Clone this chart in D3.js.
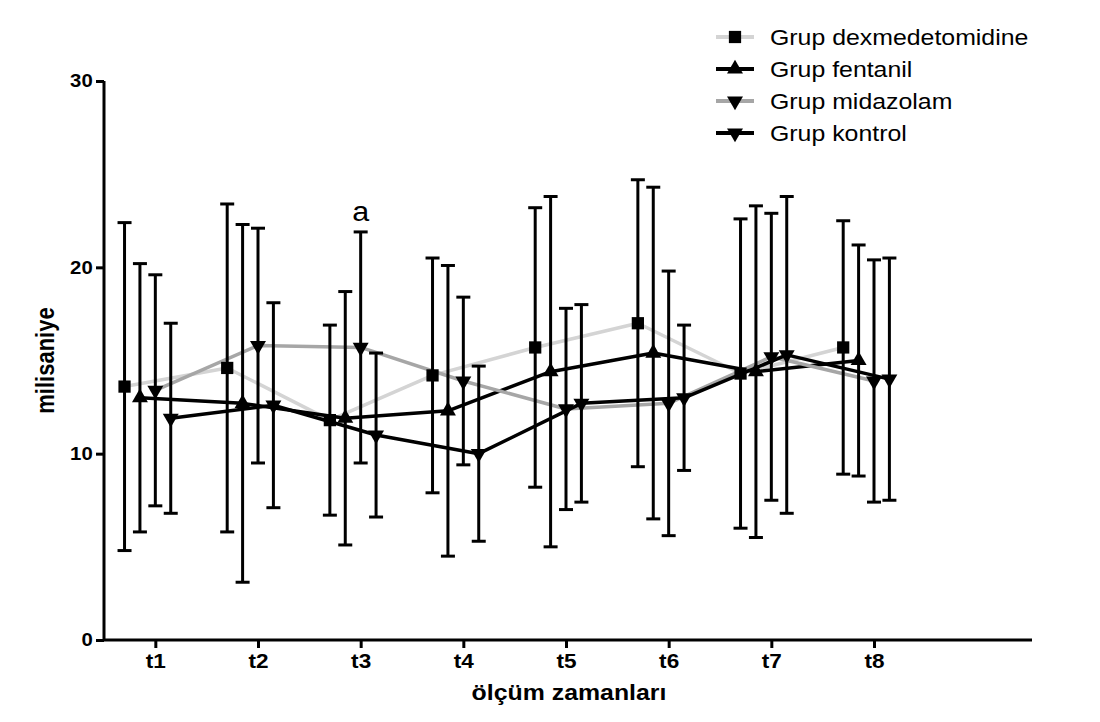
<!DOCTYPE html>
<html>
<head>
<meta charset="utf-8">
<script src="https://cdn.jsdelivr.net/npm/d3@7"></script>
<style>
  body { margin: 0; background: #fff; }
  svg { font-family: "Liberation Sans", Arial, sans-serif; }
</style>
</head>
<body>
<div id="chart"></div>
<script>
const width = 1100;
const height = 722;

const timePoints = ['t1', 't2', 't3', 't4', 't5', 't6', 't7', 't8'];
const groupNames = ['Grup dexmedetomidine', 'Grup fentanil', 'Grup midazolam', 'Grup kontrol'];

// mean and SD per time point
const dexMean = [13.6, 14.6, 11.8, 14.2, 15.7, 17.0, 14.3, 15.7];
const dexSd   = [8.8, 8.8, 5.1, 6.3, 7.5, 7.7, 8.3, 6.8];
const fenMean = [13.0, 12.7, 11.9, 12.3, 14.4, 15.4, 14.4, 15.0];
const fenSd   = [7.2, 9.6, 6.8, 7.8, 9.4, 8.9, 8.9, 6.2];
const midMean = [13.4, 15.8, 15.7, 13.9, 12.4, 12.7, 15.2, 13.9];
const midSd   = [6.2, 6.3, 6.2, 4.5, 5.4, 7.1, 7.7, 6.5];
const konMean = [11.9, 12.6, 11.0, 10.0, 12.7, 13.0, 15.3, 14.0];
const konSd   = [5.1, 5.5, 4.4, 4.7, 5.3, 3.9, 8.5, 6.5];

const yTicks = [0, 10, 20, 30];

const series = [
    { name: groupNames[0], mean: dexMean, sd: dexSd, offset: -0.3,  color: '#d4d4d4', symbol: 'square' },
    { name: groupNames[1], mean: fenMean, sd: fenSd, offset: -0.15, color: '#000000', symbol: 'up' },
    { name: groupNames[2], mean: midMean, sd: midSd, offset: 0,     color: '#a6a6a6', symbol: 'down' },
    { name: groupNames[3], mean: konMean, sd: konSd, offset: 0.15,  color: '#000000', symbol: 'down' }
];

// the original text is a little wider than Arial
const stretch = 1.13;

const svg = d3.select('#chart').append('svg').attr('width', width).attr('height', height);

const x = d3.scaleLinear().domain([0.5, 9.5]).range([104, 1028]);
const y = d3.scaleLinear().domain([0, 30]).range([640, 81]);

function symbolPath(type) {
    if (type === 'square') return d3.symbol().type(d3.symbolSquare).size(150)();
    return d3.symbol().type(d3.symbolTriangle).size(110)();
}

// axes
const yAxis = svg.append('g').attr('transform', 'translate(104,0)')
    .call(d3.axisLeft(y).tickValues(yTicks).tickSize(8).tickPadding(2));
const xAxis = svg.append('g').attr('transform', 'translate(0,640)')
    .call(d3.axisBottom(x).tickValues(d3.range(1, 9)).tickSize(8).tickPadding(6)
        .tickFormat(d => timePoints[d - 1]));
[yAxis, xAxis].forEach(a => {
    a.select('.domain').attr('stroke', '#000').attr('stroke-width', 3);
    a.selectAll('.tick line').attr('stroke', '#000').attr('stroke-width', 3);
    a.selectAll('.tick text').attr('fill', '#000').attr('font-weight', 'bold')
        .attr('transform', 'scale(' + stretch + ',1)');
});
yAxis.selectAll('.tick text').style('font-size', '18px');
xAxis.selectAll('.tick text').style('font-size', '20px');
yAxis.select('.domain').attr('d', 'M0,' + y(0) + 'V' + y(30));
xAxis.select('.domain').attr('d', 'M' + x(0.5) + ',0H' + 1032);

// axis titles
svg.append('text')
    .attr('transform', 'translate(54,' + ((y(0) + y(30)) / 2) + ') rotate(-90) scale(1,' + stretch + ')')
    .attr('text-anchor', 'middle')
    .style('font-size', '22px').attr('font-weight', 'bold')
    .text('milisaniye');
svg.append('text')
    .attr('transform', 'translate(569,700) scale(' + stretch + ',1)')
    .attr('text-anchor', 'middle')
    .style('font-size', '22px').attr('font-weight', 'bold')
    .text('ölçüm zamanları');

const line = d3.line()
    .x(d => x(d.t + d.off))
    .y(d => y(d.v));

series.forEach(s => {
    const pts = s.mean.map((v, i) => ({ t: i + 1, off: s.offset, v: v, sd: s.sd[i] }));
    s.pts = pts;
    svg.append('path').datum(pts)
        .attr('fill', 'none')
        .attr('stroke', s.color)
        .attr('stroke-width', 3.5)
        .attr('stroke-linejoin', 'round')
        .attr('d', line);
});

// error bars
series.forEach(s => {
    const g = svg.append('g').attr('stroke', '#000').attr('stroke-width', 3);
    s.pts.forEach(p => {
        const cx = x(p.t + p.off);
        g.append('line').attr('x1', cx).attr('x2', cx).attr('y1', y(p.v + p.sd)).attr('y2', y(p.v - p.sd));
        g.append('line').attr('x1', cx - 7).attr('x2', cx + 7).attr('y1', y(p.v + p.sd)).attr('y2', y(p.v + p.sd));
        g.append('line').attr('x1', cx - 7).attr('x2', cx + 7).attr('y1', y(p.v - p.sd)).attr('y2', y(p.v - p.sd));
    });
});

// markers
series.forEach(s => {
    svg.append('g').selectAll('path')
        .data(s.pts)
        .enter().append('path')
        .attr('d', symbolPath(s.symbol))
        .attr('fill', '#000')
        .attr('transform', d => 'translate(' + x(d.t + d.off) + ',' + y(d.v) + ')' + (s.symbol === 'down' ? ' rotate(180)' : ''));
});

// significance mark
svg.append('text')
    .attr('transform', 'translate(' + x(3) + ',' + (y(midMean[2] + midSd[2]) - 11) + ') scale(' + stretch + ',1)')
    .attr('text-anchor', 'middle')
    .style('font-size', '27px')
    .text('a');

// legend
const legend = svg.append('g').attr('transform', 'translate(716,37)');
series.forEach((s, i) => {
    const row = legend.append('g').attr('transform', 'translate(0,' + (i * 32) + ')');
    row.append('line').attr('x1', 0).attr('x2', 38).attr('y1', 0).attr('y2', 0)
        .attr('stroke', s.color).attr('stroke-width', 4);
    row.append('path').attr('d', symbolPath(s.symbol)).attr('fill', '#000')
        .attr('transform', 'translate(19,0)' + (s.symbol === 'down' ? ' rotate(180)' : ''));
    row.append('text')
        .attr('transform', 'translate(54,8) scale(' + stretch + ',1)')
        .style('font-size', '22px')
        .text(s.name);
});
</script>
</body>
</html>
